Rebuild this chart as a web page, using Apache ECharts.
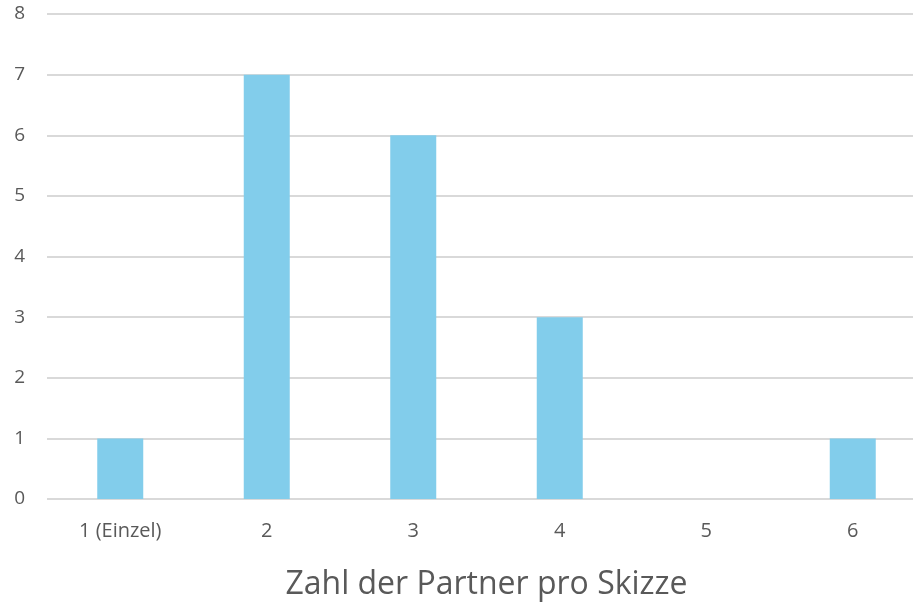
<!DOCTYPE html>
<html>
<head>
<meta charset="utf-8">
<script src="https://cdn.jsdelivr.net/npm/echarts@6/dist/echarts.min.js"></script>
<style>
  html, body { margin: 0; padding: 0; background: #fff; }
  #main { width: 913px; height: 610px; }
</style>
</head>
<body>
<div id="main"></div>
<script>
var categories = ['1 (Einzel)', '2', '3', '4', '5', '6'];
var counts = [1, 7, 6, 3, 0, 1];
var axisTitle = 'Zahl der Partner pro Skizze';

var chart = echarts.init(document.getElementById('main'));
var option = {
  animation: false,
  backgroundColor: '#fff',
  grid: { left: 47, right: -13, top: 14, bottom: 111, containLabel: false, outerBoundsMode: 'none' },
  xAxis: {
    type: 'category',
    data: categories,
    name: axisTitle,
    nameLocation: 'middle',
    nameGap: 70,
    nameTextStyle: { fontFamily: 'Open Sans', fontSize: 32, color: '#595959' },
    axisLine: { show: false },
    axisTick: { show: false },
    axisLabel: { fontFamily: 'Open Sans', fontSize: 20, color: '#595959', margin: 22 }
  },
  yAxis: {
    type: 'value',
    min: 0,
    max: 8,
    interval: 1,
    axisLine: { show: false },
    axisTick: { show: false },
    axisLabel: { fontFamily: 'Open Sans', fontSize: 19, color: '#595959', margin: 22 },
    splitLine: { lineStyle: { color: '#d9d9d9', width: 2 } }
  },
  series: [{
    type: 'bar',
    data: counts,
    barWidth: 46,
    itemStyle: { color: '#82cdeb' }
  }]
};
chart.setOption(option);
</script>
</body>
</html>
